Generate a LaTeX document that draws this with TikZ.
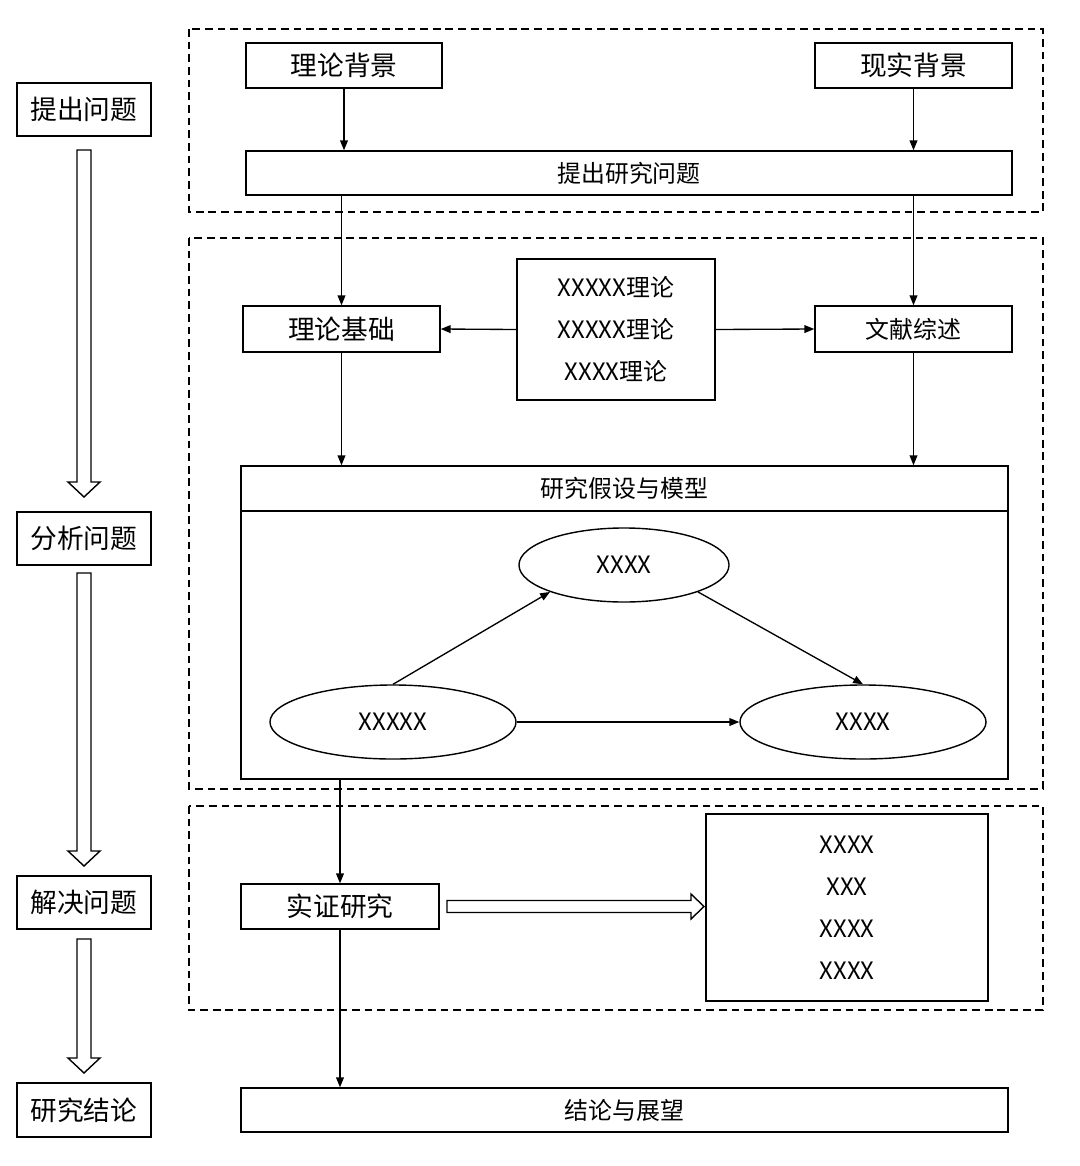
\documentclass[tikz,border=0pt]{standalone}
\usepackage{fontspec}
\setmainfont{Noto Sans CJK SC}
\usetikzlibrary{shapes.geometric,arrows.meta}

\tikzset{
  box/.style={draw, line width=1pt, inner sep=0pt, font=\fontsize{19}{22}\selectfont},
  smallbox/.style={box, font=\fontsize{17}{22}\selectfont},
  listbox/.style={box, align=center, font=\fontsize{17}{29.8}\selectfont},
  var/.style={draw, ellipse, line width=1pt, inner sep=0pt, font=\fontsize{17}{20}\selectfont},
  arr/.style={-{Triangle[length=7pt,width=5.5pt]}, line width=0.95pt},
  frame/.style={line width=1pt, dash pattern=on 5.5pt off 3.5pt},
  fat/.style={line width=1pt, fill=white}
}

\begin{document}
\begin{tikzpicture}[x=0.025cm, y=-0.025cm]
  \useasboundingbox (0,0) rectangle (1080,1166);

  %STAGES
  \node[box, minimum width=3.35cm, minimum height=1.325cm] (s1) at (84,109.5) {提出问题};
  \node[box, minimum width=3.35cm, minimum height=1.325cm] (s2) at (84,538.5) {分析问题};
  \node[box, minimum width=3.35cm, minimum height=1.325cm] (s3) at (84,902.5) {解决问题};
  \node[box, minimum width=3.35cm, minimum height=1.35cm] (s4) at (84,1110) {研究结论};
  \foreach \a/\b in {150/497, 573/866, 939/1073}
    \draw[fat] (77,\a) -- (77,\b-15) -- (68,\b-15) -- (84,\b) -- (100,\b-15) -- (91,\b-15) -- (91,\a) -- cycle;

  %FRAMES
  \draw[frame] (189,29) rectangle (1043,212);
  \draw[frame] (189,238) rectangle (1043,789);
  \draw[frame] (189,806) rectangle (1043,1010);

  %QUESTION
  \node[box, minimum width=4.9cm, minimum height=1.125cm] (llbj) at (344,65.5) {理论背景};
  \node[box, minimum width=4.925cm, minimum height=1.125cm] (xsbj) at (913.5,65.5) {现实背景};
  \node[smallbox, minimum width=19.15cm, minimum height=1.1cm] (wenti) at (629,173) {提出研究问题};
  \draw[arr] (llbj.south) -- (llbj.south |- wenti.north);
  \draw[arr] (xsbj.south) -- (xsbj.south |- wenti.north);

  %ANALYSIS
  \node[box, minimum width=4.925cm, minimum height=1.15cm] (lljc) at (341.5,329) {理论基础};
  \node[smallbox, minimum width=4.925cm, minimum height=1.15cm] (wxzs) at (913.5,329) {文献综述};
  \node[listbox, minimum width=4.95cm, minimum height=3.525cm] (lilun) at (616,329.5) {XXXXX理论\\XXXXX理论\\XXXX理论};
  \draw[arr] (wenti.south -| lljc.north) -- (lljc.north);
  \draw[arr] (wenti.south -| wxzs.north) -- (wxzs.north);
  \draw[arr] (lilun.west) -- (lljc.east);
  \draw[arr] (lilun.east) -- (wxzs.west);

  %MODEL
  \node[box, minimum width=19.175cm, minimum height=7.825cm] (model) at (624.5,622.5) {};
  \node[smallbox, minimum width=19.175cm, minimum height=1.125cm] (mhead) at (624.5,488.5) {研究假设与模型};
  \draw[arr] (lljc.south) -- (lljc.south |- model.north);
  \draw[arr] (wxzs.south) -- (wxzs.south |- model.north);
  \node[var, minimum width=5.25cm, minimum height=1.85cm] (med) at (624,565) {XXXX};
  \node[var, minimum width=6.15cm, minimum height=1.85cm] (iv) at (393,722) {XXXXX};
  \node[var, minimum width=6.15cm, minimum height=1.85cm] (dv) at (863,722) {XXXX};
  \draw[arr] (iv.north) -- (med.200);
  \draw[arr] (med.340) -- (dv.north);
  \draw[arr] (iv.east) -- (dv.west);

  %SOLUTION
  \node[box, minimum width=4.95cm, minimum height=1.125cm] (sz) at (340,906.5) {实证研究};
  \node[listbox, minimum width=7.05cm, minimum height=4.675cm] (jg) at (847,907.5) {XXXX\\XXX\\XXXX\\XXXX};
  \draw[arr] (model.south -| sz.north) -- (sz.north);
  \draw[fat] (447,900.5) -- (691,900.5) -- (691,894) -- (704,906.5) -- (691,919) -- (691,912.5) -- (447,912.5) -- cycle;

  %CONCLUSION
  \node[smallbox, minimum width=19.175cm, minimum height=1.1cm] (jl) at (624.5,1110) {结论与展望};
  \draw[arr] (sz.south) -- (sz.south |- jl.north);
\end{tikzpicture}
\end{document}
